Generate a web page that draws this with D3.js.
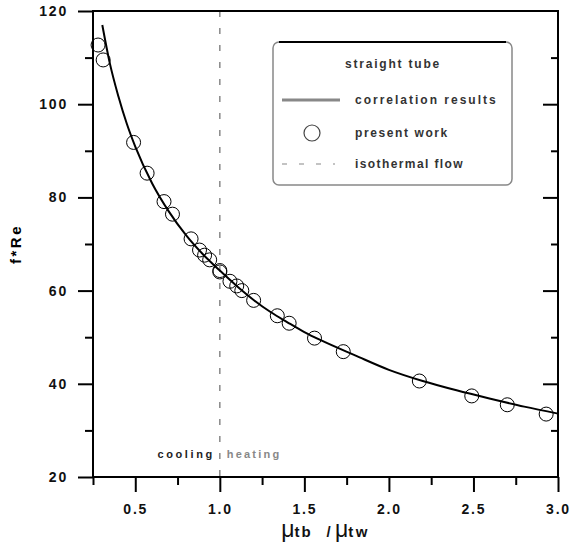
<!DOCTYPE html>
<html>
<head>
<meta charset="utf-8">
<script src="https://cdn.jsdelivr.net/npm/d3@7"></script>
<style>
  body { margin: 0; background: #fff; }
  text { font-family: "Liberation Sans", Arial, sans-serif; }
</style>
</head>
<body>
<div id="chart-area"></div>
<script>
// canvas size
const svgWidth = 573,
      svgHeight = 545;

const margin = { left: 93, right: 15, top: 11, bottom: 68 };

var chartWidth = svgWidth - margin.left - margin.right,
    chartHeight = svgHeight - margin.top - margin.bottom;

// measured points (present work)
var ptX = [0.28, 0.31, 0.49, 0.57, 0.67, 0.72, 0.83, 0.88, 0.91, 0.94, 1.0, 1.0,
           1.06, 1.10, 1.13, 1.20, 1.34, 1.41, 1.56, 1.73, 2.18, 2.49, 2.70, 2.93];
var ptY = [112.7, 109.5, 91.8, 85.2, 79.1, 76.4, 71.1, 68.7, 67.6, 66.6, 64.3, 64.0,
           62.0, 61.0, 60.0, 57.9, 54.6, 53.0, 49.8, 46.9, 40.6, 37.4, 35.5, 33.5];

// correlation curve
var curveX = [0.305, 0.35, 0.40, 0.45, 0.50, 0.60, 0.70, 0.80, 0.90, 1.00, 1.10, 1.20,
              1.30, 1.40, 1.50, 1.60, 1.80, 2.00, 2.20, 2.40, 2.60, 2.80, 3.00];
var curveY = [117.0, 108.7, 101.7, 95.8, 90.9, 83.0, 76.9, 71.9, 67.8, 64.3, 61.0, 58.0,
              55.4, 53.2, 51.1, 49.3, 46.1, 43.0, 40.6, 38.6, 36.8, 35.1, 33.6];

// ticks
var xMajor = [0.5, 1.0, 1.5, 2.0, 2.5, 3.0];
var xMinor = [0.25, 0.75, 1.25, 1.75, 2.25, 2.75];
var yMajor = [20, 40, 60, 80, 100, 120];
var yMinor = [30, 50, 70, 90, 110];

var isothermalX = 1.0;

var svg = d3.select("#chart-area").append("svg")
    .attr("width", svgWidth)
    .attr("height", svgHeight);

var g = svg.append("g")
    .attr("transform", "translate(" + margin.left + "," + margin.top + ")");

// Scales
var x = d3.scaleLinear().domain([0.25, 3.0]).range([0, chartWidth]);
var y = d3.scaleLinear().domain([20, 120]).range([chartHeight, 0]);

// isothermal flow (dashed)
g.append("line")
    .attr("x1", x(isothermalX)).attr("x2", x(isothermalX))
    .attr("y1", 0).attr("y2", chartHeight)
    .attr("stroke", "#888")
    .attr("stroke-width", 1.5)
    .attr("stroke-dasharray", "6,11");

// Axes
function styleAxis(sel){
    sel.select(".domain").remove();
    sel.selectAll("line").attr("stroke", "#000").attr("stroke-width", 2);
    sel.selectAll("text")
        .attr("font-size", "14px")
        .attr("font-weight", "bold")
        .attr("letter-spacing", "1.8px")
        .attr("fill", "#111");
}

g.append("g")
    .attr("transform", "translate(0," + chartHeight + ")")
    .call(d3.axisBottom(x).tickValues(xMajor).tickSize(15).tickPadding(12)
        .tickFormat(d3.format(".1f")))
    .call(styleAxis);
g.append("g")
    .attr("transform", "translate(0," + chartHeight + ")")
    .call(d3.axisBottom(x).tickValues(xMinor).tickSize(8).tickFormat(""))
    .call(styleAxis);

g.append("g")
    .call(d3.axisLeft(y).tickValues(yMajor).tickSize(15).tickPadding(10))
    .call(styleAxis);
g.append("g")
    .call(d3.axisLeft(y).tickValues(yMinor).tickSize(8).tickFormat(""))
    .call(styleAxis);

// right side ticks point inward
g.append("g")
    .attr("transform", "translate(" + chartWidth + ",0)")
    .call(d3.axisLeft(y).tickValues(yMajor.slice(1, 5)).tickSize(15).tickFormat(""))
    .call(styleAxis);
g.append("g")
    .attr("transform", "translate(" + chartWidth + ",0)")
    .call(d3.axisLeft(y).tickValues(yMinor).tickSize(7).tickFormat(""))
    .call(styleAxis);

// frame
g.append("rect")
    .attr("width", chartWidth)
    .attr("height", chartHeight)
    .attr("fill", "none")
    .attr("stroke", "#000")
    .attr("stroke-width", 2);

// Axis labels
g.append("text")
    .attr("transform", "rotate(-90)")
    .attr("x", -chartHeight / 2)
    .attr("y", -margin.left + 21)
    .attr("text-anchor", "middle")
    .attr("font-size", "15px")
    .attr("font-weight", "bold")
    .attr("letter-spacing", "2.5px")
    .text("f*Re");

var xLabel = g.append("text")
    .attr("x", chartWidth / 2)
    .attr("y", chartHeight + 60)
    .attr("text-anchor", "middle")
    .attr("fill", "#111");
xLabel.append("tspan").attr("font-size", "23px").text("\u03bc");
xLabel.append("tspan").attr("font-size", "15px").attr("font-weight", "bold")
    .attr("letter-spacing", "2px").text("tb");
xLabel.append("tspan").attr("font-size", "15px").attr("font-weight", "bold")
    .attr("dx", 14).text("/ ");
xLabel.append("tspan").attr("font-size", "23px").text("\u03bc");
xLabel.append("tspan").attr("font-size", "15px").attr("font-weight", "bold")
    .attr("letter-spacing", "2.5px").text("tw");

// cooling / heating notes
g.append("text")
    .attr("x", x(isothermalX) - 5)
    .attr("y", y(25) + 4)
    .attr("text-anchor", "end")
    .attr("font-size", "11px")
    .attr("font-weight", "bold")
    .attr("letter-spacing", "2.6px")
    .attr("fill", "#222")
    .text("cooling");
g.append("text")
    .attr("x", x(isothermalX) + 7)
    .attr("y", y(25) + 4)
    .attr("font-size", "11px")
    .attr("font-weight", "bold")
    .attr("letter-spacing", "2.2px")
    .attr("fill", "#888")
    .text("heating");

// correlation line
var line = d3.line()
    .x(function(d, i){ return x(curveX[i]); })
    .y(function(d, i){ return y(curveY[i]); })
    .curve(d3.curveMonotoneX);

g.append("path")
    .attr("fill", "none")
    .attr("stroke", "#000")
    .attr("stroke-width", 2)
    .attr("d", line(curveX));

// present work points
g.selectAll(".pt")
    .data(ptX)
    .enter().append("circle")
    .attr("class", "pt")
    .attr("cx", function(d){ return x(d); })
    .attr("cy", function(d, i){ return y(ptY[i]); })
    .attr("r", 7)
    .attr("fill", "none")
    .attr("stroke", "#000")
    .attr("stroke-width", 1);

// Legend
var legend = svg.append("g")
    .attr("transform", "translate(273,42)");

legend.append("rect")
    .attr("width", 239)
    .attr("height", 143)
    .attr("rx", 6)
    .attr("fill", "#fff")
    .attr("stroke", "#888")
    .attr("stroke-width", 1.5);
legend.append("line")
    .attr("x1", 6).attr("x2", 233)
    .attr("y1", 0).attr("y2", 0)
    .attr("stroke", "#000")
    .attr("stroke-width", 2);

function legendText(txt, tx, ty, anchor, spacing){
    legend.append("text")
        .attr("x", tx)
        .attr("y", ty)
        .attr("text-anchor", anchor)
        .attr("font-size", "12px")
        .attr("font-weight", "bold")
        .attr("letter-spacing", spacing + "px")
        .attr("fill", "#333")
        .text(txt);
}

legendText("straight tube", 120, 26, "middle", 1.8);

legend.append("line")
    .attr("x1", 9).attr("x2", 67)
    .attr("y1", 58).attr("y2", 58)
    .attr("stroke", "#888")
    .attr("stroke-width", 3);
legendText("correlation results", 82, 62, "start", 2);

legend.append("circle")
    .attr("cx", 39).attr("cy", 91)
    .attr("r", 8)
    .attr("fill", "none")
    .attr("stroke", "#444")
    .attr("stroke-width", 1.2);
legendText("present work", 82, 95, "start", 1.6);

legend.append("line")
    .attr("x1", 9).attr("x2", 62)
    .attr("y1", 122).attr("y2", 122)
    .attr("stroke", "#888")
    .attr("stroke-width", 1.2)
    .attr("stroke-dasharray", "5,12");
legendText("isothermal flow", 82, 126, "start", 1.4);
</script>
</body>
</html>
